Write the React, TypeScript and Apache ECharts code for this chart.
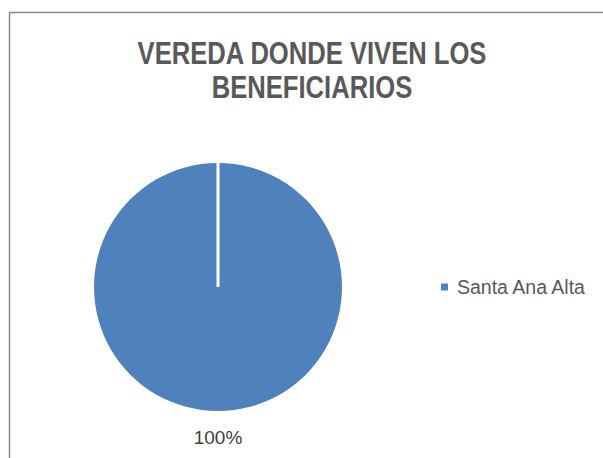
import React, { useEffect, useRef } from "react";
import * as echarts from "echarts";

const categories = ["Santa Ana Alta"];
const values = [100];
const titleLines = ["VEREDA DONDE VIVEN LOS", "BENEFICIARIOS"];

const CX = 218;
const CY = 287;
const R = 124;

export default function App() {
  const ref = useRef<HTMLDivElement>(null);
  useEffect(() => {
    if (!ref.current) return;
    const chart = echarts.init(ref.current, undefined, { renderer: "svg" });
    chart.setOption({
      animation: false,
      backgroundColor: "#ffffff",
      legend: {
        orient: "vertical",
        left: 441,
        top: 277,
        padding: 0,
        icon: "rect",
        itemWidth: 7,
        itemHeight: 7,
        itemGap: 10,
        data: categories,
        textStyle: {
          fontFamily: "Liberation Sans",
          fontSize: 19.5,
          color: "#595959",
          padding: [0, 0, 0, 4],
        },
      },
      graphic: [
        {
          type: "rect",
          shape: { x: 9.5, y: 12.5, width: 700, height: 600 },
          style: { fill: "none", stroke: "#8a8a8a", lineWidth: 1.5 },
          z: 0,
        },
        {
          type: "text",
          x: 312,
          y: 36.7,
          scaleX: 0.8,
          style: {
            text: titleLines.join("\n"),
            x: 0,
            y: 0,
            align: "center",
            verticalAlign: "top",
            fontFamily: "Liberation Sans",
            fontWeight: "bold",
            fontSize: 32,
            lineHeight: 33.3,
            fill: "#595959",
          },
          z: 10,
        },
        {
          type: "line",
          shape: { x1: CX, y1: CY - R, x2: CX, y2: CY },
          style: { stroke: "#ffffff", lineWidth: 3 },
          z: 100,
        },
      ],
      series: [
        {
          type: "pie",
          center: [CX, CY],
          radius: [0, R],
          startAngle: 90,
          clockwise: true,
          silent: true,
          itemStyle: { color: "#4f81bd" },
          data: categories.map((name, i) => ({ name, value: values[i] })),
          label: {
            show: true,
            position: "outside",
            formatter: "{d}%",
            fontFamily: "Liberation Sans",
            fontSize: 19,
            color: "#404040",
          },
          labelLine: { show: false, length: 20, length2: 0 },
          labelLayout: () => ({
            x: CX,
            y: CY + R + 26,
            align: "center",
            verticalAlign: "middle",
          }),
        },
      ],
    });
    return () => chart.dispose();
  }, []);
  return (
    <div
      ref={ref}
      style={{ position: "fixed", left: 0, top: 0, width: 603, height: 458 }}
    />
  );
}
